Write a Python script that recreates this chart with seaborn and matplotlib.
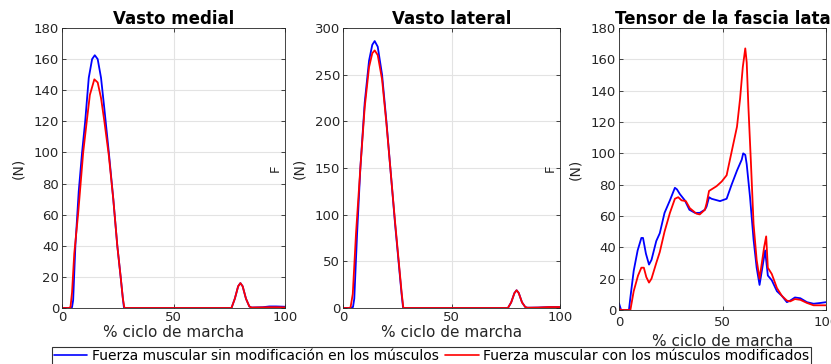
import numpy as np
import pandas as pd
import matplotlib
matplotlib.use("Agg")
import matplotlib.pyplot as plt
import seaborn as sns
from matplotlib.lines import Line2D

sns.set_theme(style="whitegrid")
plt.rcParams['font.family'] = ['DejaVu Sans']

titles = ["Vasto medial", "Vasto lateral", "Tensor de la fascia lata"]
series_names = ["Fuerza muscular sin modificación en los músculos",
                "Fuerza muscular con los músculos modificados"]
xlabel = "% ciclo de marcha"
ylims = [180, 300, 180]
yticks = [list(range(0, 181, 20)), list(range(0, 301, 50)), list(range(0, 181, 20))]

# Vasto medial
vm_x_blue = [0, 3, 4.5, 5, 6, 7.5, 9, 10.4, 12, 13.5, 14.7, 16, 17.5, 19, 21, 23, 24.8, 26.3, 27.3, 27.8, 30,
             60, 76, 77.5, 79, 80, 81, 82.5, 84, 85, 90, 93, 96, 100]
vm_blue = [0, 0, 0.5, 5, 40, 75, 100, 120, 148, 160, 162.5, 160, 148, 128, 100, 70, 40, 20, 6, 0, 0,
           0, 0, 6, 14, 16, 14, 6, 1, 0.3, 0.5, 1, 1, 0.8]
vm_x_red = [0, 3, 3.8, 4.5, 5.5, 7.2, 9.5, 11.1, 12.5, 14.5, 16, 17.5, 19, 21, 23, 24.8, 26.3, 27.3, 28, 30,
            60, 76, 77.5, 79, 80, 81, 82.5, 84, 85, 90, 93, 96, 100]
vm_red = [0, 0, 0.5, 10, 35, 60, 100, 120, 137, 147, 145, 135, 120, 98, 70, 40, 20, 6, 0, 0,
          0, 0, 6, 14, 16, 14, 6, 1, 0.3, 0.4, 0.5, 0.5, 0.4]

# Vasto lateral
vl_x_blue = [0, 3, 4.6, 5.2, 6.5, 8, 10, 12, 13.5, 14.6, 16, 18, 20, 22, 24, 26, 27, 27.7, 30,
             60, 76, 77.5, 79, 80, 81, 82.5, 84, 85, 90, 95, 100]
vl_blue = [0, 0, 1, 10, 80, 150, 220, 265, 282, 286, 280, 250, 200, 145, 90, 40, 15, 0, 0,
           0, 0, 6, 16, 19, 16, 6, 1, 0.3, 0.5, 1, 1]
vl_x_red = [0, 3, 3.5, 4.5, 6, 8, 10, 12, 13.5, 14.6, 16, 18, 20, 22, 24, 26, 27, 27.8, 30,
            60, 76, 77.5, 79, 80, 81, 82.5, 84, 85, 90, 95, 100]
vl_red = [0, 0, 1, 15, 80, 150, 215, 258, 273, 276, 271, 245, 198, 145, 92, 42, 17, 0, 0,
          0, 0, 6, 16, 19, 16, 6, 1, 0.3, 0.5, 1, 1]

# Tensor de la fascia lata
tf_x_blue = [0, 1, 2, 4.8, 5.5, 7.1, 9, 10.8, 11.6, 13, 14.5, 15.7, 18, 19.7, 22, 24.6, 27, 28, 29.4, 31.8, 34,
             36.7, 39, 41.5, 42.3, 43.5, 44.7, 48.8, 52, 54.4, 57, 59.3, 60, 61, 61.7, 63.3, 65, 66.5, 67.9,
             69, 70.6, 71.9, 73.8, 76.3, 78.7, 81.1, 82.7, 85, 87.6, 90.8, 94, 97.3, 100]
tf_blue = [4.3, 0, 0, 0, 8, 25, 38, 46, 46, 36, 29, 32, 44, 49, 62, 70, 78, 77, 74, 70, 64,
           62, 62, 64, 66, 72, 71, 69.5, 71, 80, 89, 96, 100, 99, 93, 72, 45, 27, 16,
           25, 38, 22, 19, 12, 9, 5, 6, 8, 7.5, 5, 4, 4.5, 5]
tf_x_red = [0, 1, 2, 5.5, 7.1, 9.2, 10.8, 12, 13.2, 14.5, 15.7, 18, 19.7, 22, 24.6, 27, 28.6, 30.2, 32.3, 34.2,
            37.4, 39, 41.5, 42.3, 43.5, 44.7, 47.1, 49.6, 52, 53.6, 57, 58.5, 59.8, 61, 61.7, 62.5, 63.7, 65,
            66.5, 67.9, 69, 70.1, 71.1, 71.9, 73.8, 76.3, 78.7, 81.1, 82.7, 85, 87.6, 90.8, 94, 97.3, 100]
tf_red = [1, 0, 0, 0, 12, 22, 27, 27, 21, 17.5, 20, 30, 37, 50, 62, 71, 72, 70, 69.5, 65,
          61.5, 61, 64, 68, 76, 77, 79, 82, 86, 96, 117, 135, 155, 167, 158, 130, 95, 55,
          32, 20, 30, 40, 47, 27, 23, 14, 9, 6, 5.5, 7, 6.5, 4.5, 3, 3, 3]

panels = [(vm_x_blue, vm_blue, vm_x_red, vm_red),
          (vl_x_blue, vl_blue, vl_x_red, vl_red),
          (tf_x_blue, tf_blue, tf_x_red, tf_red)]

W, H = 831, 364
fig = plt.figure(figsize=(W / 100, H / 100), dpi=100)
boxes = [(62, 285, 28, 308), (343, 560, 28, 308), (619, 826, 28, 310)]
palette = {series_names[0]: "#0000FF", series_names[1]: "#FF0000"}
txt = "#262626"

for i, (xb, yb, xr, yr) in enumerate(panels):
    l, r, t, b = boxes[i]
    ax = fig.add_axes([l / W, (H - b) / H, (r - l) / W, (b - t) / H])
    df = pd.concat([
        pd.DataFrame({"x": xb, "y": yb, "serie": series_names[0]}),
        pd.DataFrame({"x": xr, "y": yr, "serie": series_names[1]}),
    ])
    sns.lineplot(data=df, x="x", y="y", hue="serie", palette=palette, ax=ax,
                 linewidth=1.3, legend=False, sort=False)
    ax.set_xlim(0, 100)
    ax.set_ylim(0, ylims[i])
    ax.set_xticks([0, 50, 100])
    ax.set_yticks(yticks[i])
    ax.set_facecolor("white")
    ax.grid(True, color="#e3e3e3", linewidth=0.8)
    for s in ax.spines.values():
        s.set_visible(True)
        s.set_color(txt)
        s.set_linewidth(0.6)
    ax.tick_params(axis="both", which="both", direction="in", length=3, width=0.6,
                   labelsize=9.5, colors=txt, top=True, right=True, bottom=True, left=True,
                   pad=2)
    if i == 2:
        ax.tick_params(axis="x", pad=4)
    ax.set_xlabel(xlabel, fontsize=11, color=txt, labelpad=4 if i == 2 else 1)
    ax.set_ylabel("(N)", fontsize=10, color=txt, labelpad=6)
    ax.set_title(titles[i], fontsize=12, fontweight="bold", color="black", pad=2)

fig.text(275 / W, 1 - 168 / H, "F", rotation=90, fontsize=9.5, color=txt, ha="center", va="center")
fig.text(550 / W, 1 - 168 / H, "F", rotation=90, fontsize=9.5, color=txt, ha="center", va="center")

handles = [Line2D([], [], color="#0000FF", lw=1.2), Line2D([], [], color="#FF0000", lw=1.2)]
leg = fig.legend(handles, series_names, loc="upper left", bbox_to_anchor=(52 / W, 1 - 347 / H),
                 ncol=2, fontsize=10, frameon=True, fancybox=False, edgecolor="black",
                 handlelength=2.4, handletextpad=0.3, columnspacing=0.5, borderpad=0.15,
                 borderaxespad=0)
leg.get_frame().set_linewidth(0.8)
for t_ in leg.get_texts():
    t_.set_color("black")

fig.savefig("out.png", dpi=100, facecolor="white")
